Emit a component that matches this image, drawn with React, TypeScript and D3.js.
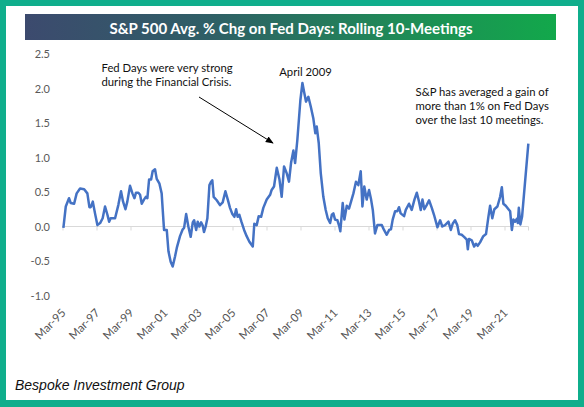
import React from "react";
import * as d3 from "d3";

// decimal year of each rolling 10-meeting reading
const years = [
  1995.19, 1995.33, 1995.52, 1995.62, 1995.82, 1995.97, 1996.17, 1996.41, 1996.6, 1996.72,
  1996.8, 1996.92, 1997.05, 1997.19, 1997.35, 1997.5, 1997.64, 1997.78, 1997.88, 1997.97,
  1998.23, 1998.42, 1998.58, 1998.7, 1998.84, 1998.95, 1999.11, 1999.25, 1999.37, 1999.46,
  1999.6, 1999.7, 1999.8, 1999.93, 2000.04, 2000.13, 2000.23, 2000.35, 2000.44, 2000.58,
  2000.68, 2000.84, 2000.97, 2001.11, 2001.27, 2001.37, 2001.5, 2001.62, 2001.76, 2001.86,
  2002.05, 2002.21, 2002.29, 2002.41, 2002.54, 2002.68, 2002.8, 2002.88, 2003.0, 2003.09,
  2003.19, 2003.29, 2003.39, 2003.46, 2003.56, 2003.66, 2003.78, 2003.86, 2003.95, 2004.03,
  2004.21, 2004.4, 2004.56, 2004.72, 2004.86, 2004.99, 2005.13, 2005.25, 2005.35, 2005.44,
  2005.54, 2005.66, 2005.82, 2005.97, 2006.13, 2006.33, 2006.42, 2006.56, 2006.68, 2006.82,
  2006.95, 2007.15, 2007.35, 2007.44, 2007.58, 2007.74, 2007.9, 2008.03, 2008.17, 2008.33,
  2008.46, 2008.58, 2008.72, 2008.82, 2008.95, 2009.13, 2009.25, 2009.35, 2009.46, 2009.6,
  2009.74, 2009.89, 2010.01, 2010.09, 2010.21, 2010.33, 2010.48, 2010.62, 2010.74, 2010.88,
  2010.98, 2011.07, 2011.17, 2011.31, 2011.42, 2011.48, 2011.62, 2011.72, 2011.86, 2011.99,
  2012.11, 2012.25, 2012.4, 2012.54, 2012.68, 2012.78, 2012.89, 2013.03, 2013.17, 2013.29,
  2013.39, 2013.52, 2013.66, 2013.92, 2014.05, 2014.21, 2014.35, 2014.46, 2014.56, 2014.7,
  2014.83, 2014.93, 2015.03, 2015.23, 2015.33, 2015.52, 2015.68, 2015.84, 2015.98, 2016.11,
  2016.21, 2016.31, 2016.42, 2016.56, 2016.7, 2016.86, 2016.99, 2017.19, 2017.35, 2017.48,
  2017.64, 2017.84, 2017.98, 2018.09, 2018.23, 2018.36, 2018.46, 2018.62, 2018.76, 2018.92,
  2018.98, 2019.05, 2019.21, 2019.35, 2019.46, 2019.56, 2019.7, 2019.89, 2020.05, 2020.19,
  2020.29, 2020.42, 2020.54, 2020.72, 2020.88, 2020.98, 2021.07, 2021.21, 2021.37, 2021.47,
  2021.57, 2021.66, 2021.76, 2021.86, 2021.92, 2021.98, 2022.07, 2022.17, 2022.54,
];

// S&P 500 average % change on Fed days, rolling 10 meetings
const avgChange = [
  -0.02, 0.29, 0.41, 0.34, 0.33, 0.48, 0.55, 0.54, 0.48, 0.28,
  0.28, 0.36, 0.19, 0.02, 0.05, 0.12, 0.29, 0.17, 0.07, 0.12,
  0.12, 0.31, 0.51, 0.36, 0.25, 0.36, 0.59, 0.48, 0.41, 0.49,
  0.49, 0.46, 0.33, 0.39, 0.43, 0.41, 0.68, 0.68, 0.8, 0.83,
  0.69, 0.62, 0.48, -0.05, -0.05, -0.36, -0.51, -0.58, -0.43, -0.31,
  -0.14, -0.04, -0.02, 0.18, 0.0, -0.15, 0.06, 0.09, -0.05, 0.07,
  0.0, 0.06, 0.01, -0.08, 0.0, 0.12, 0.6, 0.64, 0.67, 0.43,
  0.38, 0.31, 0.35, 0.51, 0.39, 0.27, 0.18, 0.14, 0.25, 0.14,
  0.17, 0.07, -0.05, -0.14, -0.22, -0.29, 0.04, 0.02, 0.15, 0.14,
  0.27, 0.39, 0.46, 0.53, 0.58, 0.85, 0.68, 0.43, 0.87, 0.77,
  0.65, 0.92, 1.1, 0.92, 1.25, 1.83, 2.08, 1.95, 1.81, 1.88,
  1.74, 1.57, 1.35, 1.45, 1.21, 0.77, 0.43, 0.24, 0.12, 0.05,
  0.17, 0.19, 0.1, 0.09, 0.0, -0.07, 0.34, 0.1, 0.3, 0.26,
  0.36, 0.48, 0.65, 0.6, 0.8, 0.29, 0.58, 0.39, 0.53, 0.39,
  0.24, -0.1, 0.02, 0.02, -0.05, -0.12, -0.05, -0.04, 0.1, 0.22,
  0.22, 0.28, 0.19, 0.15, 0.24, 0.33, 0.24, 0.39, 0.49, 0.36,
  0.24, 0.39, 0.25, 0.31, 0.38, 0.27, 0.17, -0.01, 0.09, 0.0,
  0.02, 0.07, -0.05, 0.04, 0.09, 0.02, -0.11, -0.12, -0.15, -0.19,
  -0.33, -0.18, -0.2, -0.29, -0.25, -0.28, -0.23, -0.14, -0.11, 0.14,
  0.3, 0.12, 0.25, 0.29, 0.43, 0.57, 0.33, 0.3, 0.25, 0.22,
  -0.05, 0.1, 0.07, 0.11, 0.05, 0.27, 0.03, 0.14, 1.2,
];

const yTicks = [-1.0, -0.5, 0.0, 0.5, 1.0, 1.5, 2.0, 2.5];
const xTickYears = [1995, 1997, 1999, 2001, 2003, 2005, 2007, 2009, 2011, 2013, 2015, 2017, 2019, 2021];
const xTickLabels = xTickYears.map((y) => `Mar-${String(y).slice(2)}`);
const MARCH = 2 / 12;

const title = "S&P 500 Avg. % Chg on Fed Days: Rolling 10-Meetings";
const noteLeft = ["Fed Days were very strong", "during the Financial Crisis."];
const notePeak = "April 2009";
const noteRight = ["S&P has averaged a gain of", "more than 1% on Fed Days", "over the last 10 meetings."];
const source = "Bespoke Investment Group";

const W = 584;
const H = 407;
const FONT = "Lato, 'Noto Sans', sans-serif";

export default function App() {
  const x = d3.scaleLinear().domain([1995 + MARCH, 2021 + MARCH]).range([63, 505]);
  const y = d3.scaleLinear().domain([-1, 2.5]).range([295.5, 54]);
  const line = d3
    .line<number>()
    .x((_, i) => x(years[i]))
    .y((d) => y(d));
  const x0 = 62;
  const x1 = 528.5;

  return (
    <svg
      width={W}
      height={H}
      viewBox={`0 0 ${W} ${H}`}
      style={{ position: "absolute", left: 0, top: 0, display: "block" }}
    >
      <defs>
        <linearGradient id="tbar" x1="0" x2="1" y1="0" y2="0">
          <stop offset="0" stopColor="#3c4a6e" />
          <stop offset="0.35" stopColor="#2f5f66" />
          <stop offset="0.7" stopColor="#1f8a57" />
          <stop offset="1" stopColor="#12a84b" />
        </linearGradient>
        <marker id="arr" viewBox="0 0 10 10" refX="9" refY="5" markerWidth="8" markerHeight="8" orient="auto" markerUnits="userSpaceOnUse">
          <path d="M0,1 L10,5 L0,9 z" fill="#000" />
        </marker>
      </defs>
      <rect x={0} y={0} width={W} height={H} fill="#0fae8c" />
      <rect x={6} y={6} width={572} height={394} fill="#ffffff" />

      <rect x={25} y={14} width={531} height={26} fill="url(#tbar)" />
      <text x={291} y={33.5} textAnchor="middle" fill="#fff" fontFamily={FONT} fontWeight={700} fontSize={15}>
        {title}
      </text>

      {/* zero gridline and ticks */}
      <line x1={x0} x2={x1} y1={y(0)} y2={y(0)} stroke="#d9d9d9" strokeWidth={1} />
      {xTickYears.map((yr) => (
        <line key={yr} x1={x(yr + MARCH)} x2={x(yr + MARCH)} y1={y(0)} y2={y(0) + 4} stroke="#d9d9d9" strokeWidth={1} />
      ))}
      <line x1={x1} x2={x1} y1={y(0)} y2={y(0) + 4} stroke="#d9d9d9" strokeWidth={1} />

      {yTicks.map((t) => (
        <text key={t} x={50} y={y(t) + 4} textAnchor="end" fill="#595959" fontFamily={FONT} fontSize={11}>
          {t.toFixed(1)}
        </text>
      ))}

      {xTickYears.map((yr, i) => {
        const ax = x(yr + MARCH) + 3.5;
        const ay = 313.5;
        return (
          <text
            key={yr}
            x={ax}
            y={ay}
            transform={`rotate(-45 ${ax} ${ay})`}
            textAnchor="end"
            fill="#555"
            fontFamily={FONT}
            fontSize={11.5}
          >
            {xTickLabels[i]}
          </text>
        );
      })}

      <path d={line(avgChange) || ""} fill="none" stroke="#4472c4" strokeWidth={2.5} strokeLinejoin="round" />

      {noteLeft.map((s, i) => (
        <text key={s} x={101.5} y={72 + i * 13.7} fill="#111" fontFamily={FONT} fontSize={11.3}>
          {s}
        </text>
      ))}
      <text x={305.5} y={75.5} textAnchor="middle" fill="#111" fontFamily={FONT} fontSize={11.3}>
        {notePeak}
      </text>
      {noteRight.map((s, i) => (
        <text key={s} x={415.5} y={96 + i * 13.8} fill="#111" fontFamily={FONT} fontSize={11.3}>
          {s}
        </text>
      ))}

      <line x1={199} y1={97} x2={273} y2={143} stroke="#000" strokeWidth={1} markerEnd="url(#arr)" />

      <text x={15} y={390} fill="#111" fontFamily="'Liberation Sans', Arial, sans-serif" fontStyle="italic" fontSize={14}>
        {source}
      </text>
    </svg>
  );
}
